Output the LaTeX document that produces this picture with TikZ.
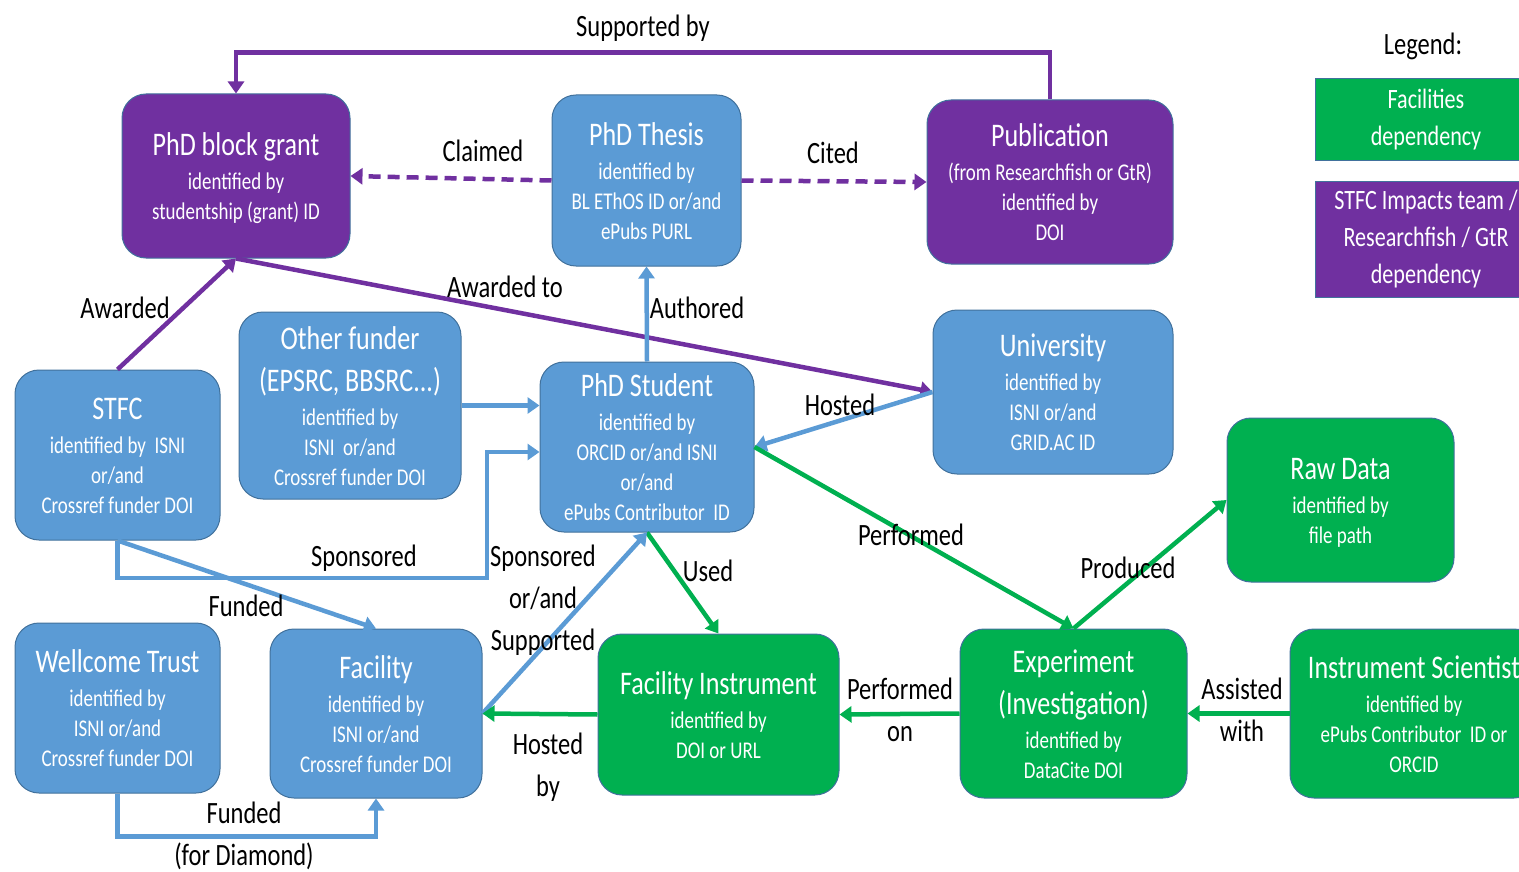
\documentclass[tikz,border=0pt]{standalone}
\usepackage{fontspec}
\setmainfont{Carlito}[FakeStretch=0.79]
\usetikzlibrary{arrows.meta,calc}
\definecolor{bfill}{HTML}{5B9BD5}
\definecolor{pfill}{HTML}{7030A0}
\definecolor{gfill}{HTML}{00B050}
\definecolor{edge}{HTML}{41719C}
\newcommand\boxtop{\rule{0pt}{5pt}\\}
\newcommand\boxtitle[1]{{\fontsize{33}{0}\selectfont\rule[-14pt]{0pt}{42pt}#1}}
\newcommand\boxline[1]{\rule[-10pt]{0pt}{30pt}#1}
\begin{document}
\begin{tikzpicture}[x=1pt,y=-1pt,
  box/.style={draw=edge, line width=1pt, rounded corners=24pt, text=white, align=center, inner sep=0pt,
    font={\fontsize{24}{0}\selectfont\lineskip=0pt}},
  bbox/.style={box, fill=bfill},
  pbox/.style={box, fill=pfill},
  gbox/.style={box, fill=gfill},
  legbox/.style={draw=edge, line width=1pt, text=white, align=center, inner sep=0pt, font=\fontsize{28}{37}\selectfont},
  lbl/.style={font=\fontsize{31}{42}\selectfont, align=center, inner sep=0pt, text=black, yshift=-1pt},
  arr/.style={line width=4.5pt, -{Triangle[length=12pt,width=16pt]}},
  barr/.style={arr, draw=bfill},
  parr/.style={arr, draw=pfill},
  garr/.style={arr, draw=gfill},
  dsh/.style={dash pattern=on 12pt off 7pt}
]
\useasboundingbox (0,0) rectangle (1519,872);

% boxes
\node[pbox, minimum width=228pt, minimum height=164pt] (grant) at (236,176)
  {\boxtop\boxtitle{PhD block grant}\\\boxline{identified by}\\\boxline{studentship (grant) ID}};
\node[bbox, minimum width=189pt, minimum height=171pt] (thesis) at (646.5,180.5)
  {\boxtop\boxtitle{PhD Thesis}\\\boxline{identified by}\\\boxline{BL EThOS ID or/and}\\\boxline{ePubs PURL}};
\node[pbox, minimum width=246pt, minimum height=164pt] (pub) at (1050,182)
  {\boxtop\boxtitle{Publication}\\\boxline{(from Researchfish or GtR)}\\\boxline{identified by}\\\boxline{DOI}};
\node[bbox, minimum width=222pt, minimum height=187pt] (other) at (350,405.5)
  {\boxtop\boxtitle{Other funder}\\\boxtitle{(EPSRC, BBSRC...)}\\\boxline{identified by}\\\boxline{ISNI~ or/and}\\\boxline{Crossref funder DOI}};
\node[bbox, minimum width=205pt, minimum height=170pt] (stfc) at (117.5,455)
  {\boxtop\boxtitle{STFC}\\\boxline{identified by~ ISNI}\\\boxline{or/and}\\\boxline{Crossref funder DOI}};
\node[bbox, minimum width=214pt, minimum height=170pt] (student) at (647,447)
  {\boxtop\boxtitle{PhD Student}\\\boxline{identified by}\\\boxline{ORCID or/and ISNI}\\\boxline{or/and}\\\boxline{ePubs Contributor~ ID}};
\node[bbox, minimum width=240pt, minimum height=164pt] (univ) at (1053,392)
  {\boxtop\boxtitle{University}\\\boxline{identified by}\\\boxline{ISNI or/and}\\\boxline{GRID.AC ID}};
\node[gbox, minimum width=227pt, minimum height=164pt] (raw) at (1340.5,500)
  {\boxtop\boxtitle{Raw Data}\\\boxline{identified by}\\\boxline{file path}};
\node[bbox, minimum width=205pt, minimum height=170pt] (wellcome) at (117.5,708)
  {\boxtop\boxtitle{Wellcome Trust}\\\boxline{identified by}\\\boxline{ISNI or/and}\\\boxline{Crossref funder DOI}};
\node[bbox, minimum width=212pt, minimum height=169pt] (facility) at (376,713.5)
  {\boxtop\boxtitle{Facility}\\\boxline{identified by}\\\boxline{ISNI or/and}\\\boxline{Crossref funder DOI}};
\node[gbox, minimum width=241pt, minimum height=161pt] (instr) at (718.5,714.5)
  {\boxtop\boxtitle{Facility Instrument}\\\boxline{identified by}\\\boxline{DOI or URL}};
\node[gbox, minimum width=227pt, minimum height=169pt] (exp) at (1073.5,713.5)
  {\boxtop\boxtitle{Experiment}\\\boxtitle{(Investigation)}\\\boxline{identified by}\\\boxline{DataCite DOI}};
\node[gbox, minimum width=248pt, minimum height=169pt] (sci) at (1414,713.5)
  {\boxtop\boxtitle{Instrument Scientist}\\\boxline{identified by}\\\boxline{ePubs Contributor~ ID or}\\\boxline{ORCID}};

% legend
\node[lbl] (legtitle) at (1423,45) {Legend:};
\node[legbox, fill=gfill, minimum width=222pt, minimum height=82pt] (leg1) at (1426,120)
  {Facilities\\dependency};
\node[legbox, fill=pfill, minimum width=222pt, minimum height=115pt] (leg2) at (1426,239.5)
  {STFC Impacts team /\\Researchfish / GtR\\dependency};

% connectors
\draw[parr] (pub.north) -- ++(0,-47) -| (grant.north);
\draw[parr, dsh] (thesis.west) -- (grant.east);
\draw[parr, dsh] (thesis.east) -- (pub.west);
\draw[parr] (stfc.north) -- (grant.south);
\draw[parr] (grant.south) -- (univ.west);
\draw[barr] (student.north) -- (thesis.south);
\draw[barr] (other.east) -- (other.east -| student.west);
\draw[barr] (stfc.south) |- (487,578) |- ($(student.west)+(0,5)$);
\draw[barr] (stfc.south) -- (facility.north);
\draw[barr] (univ.west) -- (student.east);
\draw[garr] (student.east) -- (exp.north);
\draw[garr] (student.south) -- (instr.north);
\draw[barr] (facility.east) -- (student.south);
\draw[garr] (instr.west) -- (facility.east);
\draw[garr] (exp.west) -- (instr.east);
\draw[garr] (sci.west) -- (exp.east);
\draw[garr] (exp.north) -- (raw.west);
\draw[barr] (wellcome.south) |- ($(facility.south)+(0,38)$) -- (facility.south);

% labels
\node[lbl] (lsup) at (643,27) {Supported by};
\node[lbl] (lclaim) at (483,150) {Claimed};
\node[lbl] (lcited) at (833,152) {Cited};
\node[lbl] (lawd) at (125,307) {Awarded};
\node[lbl] (lawdto) at (505,286) {Awarded to};
\node[lbl] (lauth) at (697,307) {Authored};
\node[lbl] (lhost) at (840,404) {Hosted};
\node[lbl] (lspon) at (364,557) {Sponsored};
\node[lbl] (lsponsup) at (543,599) {Sponsored\\or/and\\Supported};
\node[lbl] (lfund) at (246,605) {Funded};
\node[lbl] (lused) at (708,570) {Used};
\node[lbl] (lperf) at (911,534) {Performed};
\node[lbl] (lprod) at (1128,567) {Produced};
\node[lbl] (lperfon) at (900,709) {Performed\\on};
\node[lbl] (lhostby) at (548,766) {Hosted\\by};
\node[lbl] (lassist) at (1242,709) {Assisted\\with};
\node[lbl] (lfunddia) at (244,835) {Funded\\(for Diamond)};
\end{tikzpicture}
\end{document}
